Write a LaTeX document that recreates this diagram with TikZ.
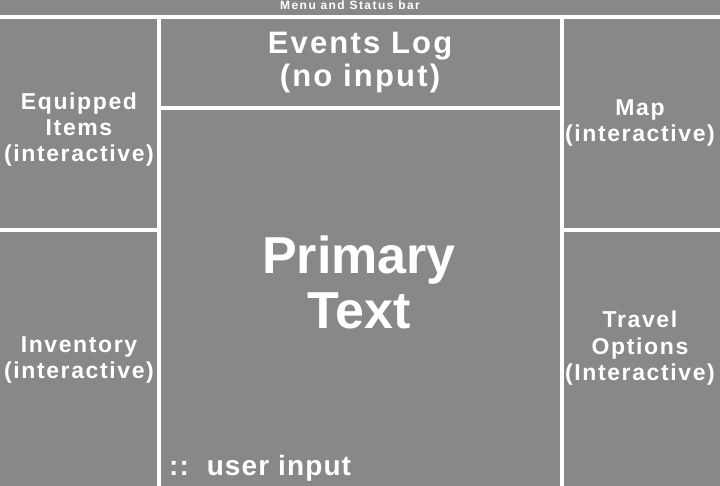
\documentclass[tikz,border=0pt]{standalone}
\usepackage{fontspec}
\setmainfont{Liberation Sans}
\newfontfamily\panefont[LetterSpace=7]{Liberation Sans}
\newfontfamily\logfont[LetterSpace=7]{Liberation Sans}
\newfontfamily\barfont[LetterSpace=12]{Liberation Sans}
\newfontfamily\inputfont[LetterSpace=4]{Liberation Sans}
\definecolor{panegray}{HTML}{888888}

\begin{document}
\begin{tikzpicture}[x=1pt,y=-1pt,
    divider/.style={draw=white,line width=4pt},
    pane text/.style={text=white,align=center,inner sep=0pt,
                      font=\panefont\bfseries\fontsize{23}{#1}\selectfont},
    pane text/.default=26]

  \useasboundingbox[fill=panegray] (0,0) rectangle (720,486);

  % frame lines
  \draw[divider] (0,17) -- (720,17);
  \draw[divider] (159,17) -- (159,486);
  \draw[divider] (562,17) -- (562,486);
  \draw[divider] (159,108) -- (562,108);
  \draw[divider] (0,230) -- (159,230);
  \draw[divider] (562,230.5) -- (720,230.5);

  \node[text=white,inner sep=0pt,anchor=base,
        font=\barfont\bfseries\fontsize{12}{13}\selectfont] (bar) at (350,10) {Menu and Status bar};

  \node[text=white,align=center,inner sep=0pt,
        font=\logfont\bfseries\fontsize{31}{33}\selectfont] (log) at (360,63) {Events Log\\(no input)};
  \node[text=white,align=center,inner sep=0pt,
        font=\bfseries\fontsize{52}{55}\selectfont] (primary) at (359,282) {Primary\\Text};
  \node[text=white,inner sep=0pt,anchor=base west,
        font=\inputfont\bfseries\fontsize{28}{30}\selectfont] (input) at (169,475) {::\ \ user input};

  \node[pane text] (equip) at (79,129.5) {Equipped\\Items\\(interactive)};
  \node[pane text] (inv) at (79,359.5) {Inventory\\(interactive)};
  \node[pane text] (map) at (640,122.5) {Map\\(interactive)};
  \node[pane text=26.5] (travel) at (640,348.5) {Travel\\Options\\(Interactive)};
\end{tikzpicture}
\end{document}
